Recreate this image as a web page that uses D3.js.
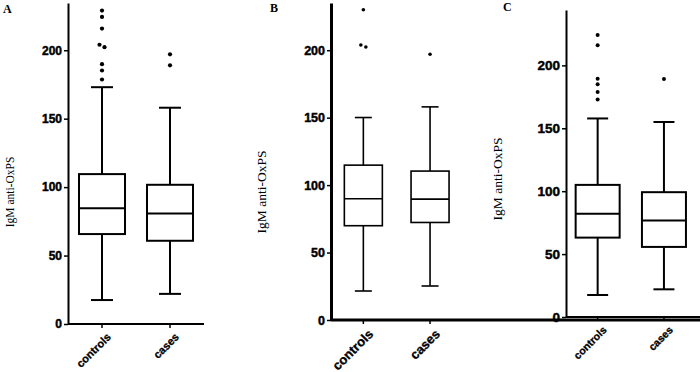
<!DOCTYPE html>
<html>
<head>
<meta charset="utf-8">
<script src="https://cdn.jsdelivr.net/npm/d3@7.9.0/dist/d3.min.js"></script>
<style>
  body { margin: 0; background: #fff; }
  svg { display: block; }
</style>
</head>
<body>
<svg id="chart" width="700" height="372"></svg>
<script>
// Shared labels
const categories = ['controls', 'cases'];
const yTicks = [0, 50, 100, 150, 200];
const yTitle = 'IgM anti-OxPS';

// Panel A
const lowA = [17.5, 22];
const q1A = [65.7, 60.8];
const medA = [84.5, 80.8];
const q3A = [109.5, 101.7];
const highA = [173, 158];
const outA = [[229, 224.3, 215.8, 204, 202.2, 189.8, 185.2, 178.6], [197, 189]];

// Panel B
const lowB = [21.5, 25.2];
const q1B = [69.9, 72.3];
const medB = [89.9, 89.6];
const q3B = [114.8, 110.4];
const highB = [150.1, 158];
const outB = [[230, 203.9, 202.4], [197]];

// Panel C
const lowC = [17.5, 22];
const q1C = [63.1, 55.7];
const medC = [82, 76.7];
const q3C = [105, 99.2];
const highC = [157.8, 155];
const outC = [[224.2, 215.9, 189.4, 184.9, 178.8, 172.9], [189.2]];

// layout for each panel (positions and styles only)
const panels = [
  { letter: 'A', data: [lowA, q1A, medA, q3A, highA, outA],
    axisX: 68, axisEnd: 204, bandRange: [68, 204], yRange: [324, 3], yMax: 234.5,
    boxW: 46, capW: 22, sw: 2, axisW: 2, r: 2.1,
    tickFont: 12, catFont: 11, titleFont: 11.5, titleX: 14, titleY: 192,
    letterX: 3, letterY: 13 },
  { letter: 'B', data: [lowB, q1B, medB, q3B, highB, outB],
    axisX: 331, axisEnd: 700, bandRange: [330, 463.4], yRange: [320, 3], yMax: 235,
    boxW: 38, capW: 17, sw: 1.6, axisW: 3, r: 1.8,
    tickFont: 12.5, catFont: 13, titleFont: 13.5, titleX: 266, titleY: 192,
    letterX: 270, letterY: 12 },
  { letter: 'C', data: [lowC, q1C, medC, q3C, highC, outC],
    axisX: 566, axisEnd: 700, bandRange: [564.5, 697.1], yRange: [317, 10], yMax: 244,
    boxW: 44, capW: 21, sw: 2, axisW: 2, r: 2,
    tickFont: 13.5, catFont: 10.5, titleFont: 13.5, titleX: 502, titleY: 179,
    letterX: 503, letterY: 11 }
];

const svg = d3.select('#chart');
const sans = '"Liberation Sans", Arial, sans-serif';
const serif = '"Liberation Serif", "Times New Roman", serif';

panels.forEach(p => {
  const g = svg.append('g');
  const [low, q1, med, q3, high, outs] = p.data;

  const y = d3.scaleLinear().domain([0, p.yMax]).range(p.yRange);
  const x = d3.scaleBand().domain(categories).range(p.bandRange);
  const cx = c => x(c) + x.bandwidth() / 2;
  const base = p.yRange[0];

  // y axis
  const yAxis = g.append('g')
    .attr('transform', `translate(${p.axisX},0)`)
    .call(d3.axisLeft(y).tickValues(yTicks).tickSize(4).tickPadding(2).tickSizeOuter(0));
  yAxis.attr('font-family', null).attr('font-size', null);
  yAxis.select('.domain').attr('stroke-width', p.axisW);
  yAxis.selectAll('.tick line').attr('stroke-width', 1.5);
  yAxis.selectAll('.tick text')
    .attr('font-family', sans)
    .attr('font-weight', 'bold')
    .attr('font-size', p.tickFont)
    .attr('fill', '#000')
    .attr('stroke', '#000')
    .attr('stroke-width', 0.45);

  // x axis line + ticks
  g.append('line')
    .attr('x1', p.axisX).attr('x2', p.axisEnd)
    .attr('y1', base).attr('y2', base)
    .attr('stroke', '#000').attr('stroke-width', p.axisW);
  g.selectAll('.xtick').data(categories).join('line')
    .attr('class', 'xtick')
    .attr('x1', cx).attr('x2', cx)
    .attr('y1', base).attr('y2', base + 4)
    .attr('stroke', '#000').attr('stroke-width', 1.5);
  g.selectAll('.xlab').data(categories).join('text')
    .attr('class', 'xlab')
    .attr('x', 0).attr('y', 0)
    .attr('transform', c => `translate(${cx(c) + 4},${base + 8}) rotate(-45)`)
    .attr('text-anchor', 'end')
    .attr('dominant-baseline', 'hanging')
    .attr('font-family', sans)
    .attr('font-weight', 'bold')
    .attr('font-size', p.catFont)
    .attr('stroke', '#000')
    .attr('stroke-width', 0.3)
    .text(c => c);

  // boxes
  const stats = categories.map((c, i) => ({ c, lo: low[i], q1: q1[i], med: med[i], q3: q3[i], hi: high[i], out: outs[i] }));
  const box = g.selectAll('.box').data(stats).join('g').attr('class', 'box');

  box.append('line')
    .attr('x1', d => cx(d.c)).attr('x2', d => cx(d.c))
    .attr('y1', d => y(d.hi)).attr('y2', d => y(d.q3))
    .attr('stroke', '#000').attr('stroke-width', p.sw);
  box.append('line')
    .attr('x1', d => cx(d.c)).attr('x2', d => cx(d.c))
    .attr('y1', d => y(d.q1)).attr('y2', d => y(d.lo))
    .attr('stroke', '#000').attr('stroke-width', p.sw);
  ['hi', 'lo'].forEach(k => {
    box.append('line')
      .attr('x1', d => cx(d.c) - p.capW / 2).attr('x2', d => cx(d.c) + p.capW / 2)
      .attr('y1', d => y(d[k])).attr('y2', d => y(d[k]))
      .attr('stroke', '#000').attr('stroke-width', p.sw);
  });
  box.append('rect')
    .attr('x', d => cx(d.c) - p.boxW / 2)
    .attr('width', p.boxW)
    .attr('y', d => y(d.q3))
    .attr('height', d => y(d.q1) - y(d.q3))
    .attr('fill', '#fff').attr('stroke', '#000').attr('stroke-width', p.sw);
  box.append('line')
    .attr('x1', d => cx(d.c) - p.boxW / 2).attr('x2', d => cx(d.c) + p.boxW / 2)
    .attr('y1', d => y(d.med)).attr('y2', d => y(d.med))
    .attr('stroke', '#000').attr('stroke-width', p.sw);

  // outliers, nudged sideways when two sit close together
  box.each(function (d) {
    const pts = d.out.map((v, i) => {
      const first = d.out.findIndex(w => Math.abs(w - v) < 3);
      const near = d.out.some((w, j) => j !== i && Math.abs(w - v) < 3);
      return { v, dx: near ? (first === i ? -2.5 : 2.5) : 0 };
    });
    d3.select(this).selectAll('circle').data(pts).join('circle')
      .attr('cx', o => cx(d.c) + o.dx)
      .attr('cy', o => y(o.v))
      .attr('r', p.r)
      .attr('fill', '#000');
  });

  // y title
  g.append('text')
    .attr('transform', `translate(${p.titleX},${p.titleY}) rotate(-90)`)
    .attr('text-anchor', 'middle')
    .attr('font-family', serif)
    .attr('font-size', p.titleFont)
    .text(yTitle);

  // panel letter
  g.append('text')
    .attr('x', p.letterX).attr('y', p.letterY)
    .attr('font-family', serif)
    .attr('font-weight', 'bold')
    .attr('font-size', 12)
    .text(p.letter);
});
</script>
</body>
</html>
